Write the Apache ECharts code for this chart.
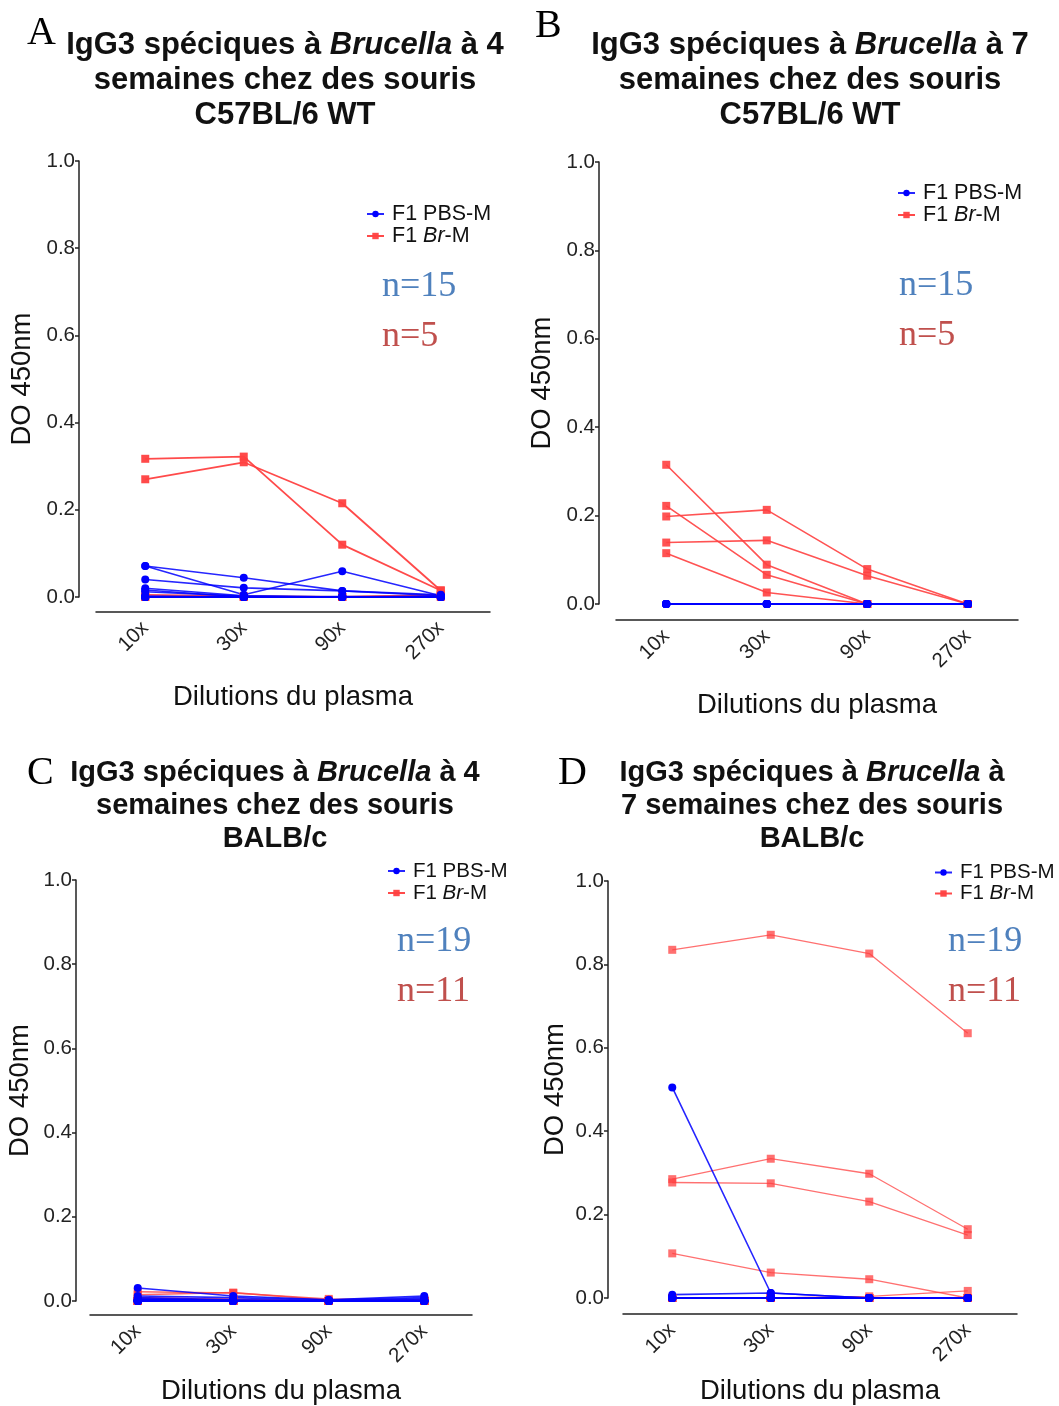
<!DOCTYPE html>
<html>
<head>
<meta charset="utf-8">
<script src="https://cdn.jsdelivr.net/npm/echarts@6/dist/echarts.min.js"></script>
<style>html,body{margin:0;padding:0;background:#fff}#c{width:1059px;height:1406px}</style>
</head>
<body>
<div id="c"></div>
<script>
// ---- data ----
const dilutions = ['10x', '30x', '90x', '270x'];
const seriesNames = ['F1 PBS-M', 'F1 Br-M'];

// Panel A: IgG3, 4 weeks, C57BL/6 WT (n=15 PBS, n=5 Br)
const panelA_PBS = [
  [0.071, 0.044, 0.014, 0.005],
  [0.071, 0.005, 0.059, 0.003],
  [0.040, 0.021, 0.014, 0.003],
  [0.020, 0.003, 0.000, 0.000],
  [0.016, 0.000, 0.000, 0.000],
  [0.012, 0.002, 0.000, 0.002],
  [0.002, 0.000, 0.001, 0.000],
  [0.000, 0.000, 0.000, 0.000],
  [0.000, 0.000, 0.000, 0.000],
  [0.000, 0.001, 0.000, 0.000],
  [0.000, 0.000, 0.000, 0.000],
  [0.000, 0.000, 0.000, 0.000],
  [0.000, 0.000, 0.000, 0.000],
  [0.000, 0.000, 0.000, 0.000],
  [0.000, 0.000, 0.000, 0.000]
];
const panelA_Br = [
  [0.317, 0.322, 0.120, 0.015],
  [0.270, 0.309, 0.215, 0.015],
  [0.005, 0.002, 0.000, 0.005],
  [0.000, 0.000, 0.000, 0.003],
  [0.000, 0.000, 0.000, 0.000]
];

// Panel B: IgG3, 7 weeks, C57BL/6 WT (n=15 PBS, n=5 Br)
const panelB_PBS = [
  [0, 0, 0, 0], [0, 0, 0, 0], [0, 0, 0, 0], [0, 0, 0, 0], [0, 0, 0, 0],
  [0, 0, 0, 0], [0, 0, 0, 0], [0, 0, 0, 0], [0, 0, 0, 0], [0, 0, 0, 0],
  [0, 0, 0, 0], [0, 0, 0, 0], [0, 0, 0, 0], [0, 0, 0, 0], [0, 0, 0, 0]
];
const panelB_Br = [
  [0.315, 0.089, 0.000, 0.000],
  [0.222, 0.066, 0.000, 0.000],
  [0.198, 0.213, 0.079, 0.000],
  [0.139, 0.144, 0.064, 0.000],
  [0.115, 0.026, 0.000, 0.000]
];

// Panel C: IgG3, 4 weeks, BALB/c (n=19 PBS, n=11 Br)
const panelC_PBS = [
  [0.031, 0.012, 0.003, 0.012],
  [0.012, 0.008, 0.002, 0.008],
  [0.008, 0.003, 0.000, 0.005],
  [0.005, 0.000, 0.000, 0.000],
  [0.004, 0.002, 0.000, 0.002],
  [0.003, 0.000, 0.000, 0.000],
  [0.002, 0.000, 0.001, 0.000],
  [0.000, 0.000, 0.000, 0.000],
  [0.000, 0.000, 0.000, 0.000],
  [0.000, 0.000, 0.000, 0.000],
  [0.000, 0.000, 0.000, 0.000],
  [0.000, 0.000, 0.000, 0.000],
  [0.000, 0.000, 0.000, 0.000],
  [0.000, 0.000, 0.000, 0.000],
  [0.000, 0.000, 0.000, 0.000],
  [0.000, 0.000, 0.000, 0.000],
  [0.000, 0.000, 0.000, 0.000],
  [0.000, 0.000, 0.000, 0.000],
  [0.000, 0.000, 0.000, 0.000]
];
const panelC_Br = [
  [0.022, 0.019, 0.005, 0.003],
  [0.015, 0.020, 0.002, 0.000],
  [0.008, 0.005, 0.000, 0.000],
  [0.004, 0.002, 0.000, 0.002],
  [0.000, 0.000, 0.000, 0.000],
  [0.000, 0.000, 0.000, 0.000],
  [0.000, 0.000, 0.000, 0.000],
  [0.000, 0.000, 0.000, 0.000],
  [0.000, 0.000, 0.000, 0.000],
  [0.000, 0.000, 0.000, 0.000],
  [0.000, 0.000, 0.000, 0.000]
];

// Panel D: IgG3, 7 weeks, BALB/c (n=19 PBS, n=11 Br)
const panelD_PBS = [
  [0.505, 0.012, 0.000, 0.000],
  [0.008, 0.012, 0.000, 0.000],
  [0, 0, 0, 0], [0, 0, 0, 0], [0, 0, 0, 0], [0, 0, 0, 0], [0, 0, 0, 0],
  [0, 0, 0, 0], [0, 0, 0, 0], [0, 0, 0, 0], [0, 0, 0, 0], [0, 0, 0, 0],
  [0, 0, 0, 0], [0, 0, 0, 0], [0, 0, 0, 0], [0, 0, 0, 0], [0, 0, 0, 0],
  [0, 0, 0, 0], [0, 0, 0, 0]
];
const panelD_Br = [
  [0.835, 0.871, 0.826, 0.635],
  [0.285, 0.334, 0.298, 0.165],
  [0.277, 0.275, 0.231, 0.151],
  [0.107, 0.061, 0.045, 0.000],
  [0.000, 0.000, 0.004, 0.017],
  [0, 0, 0, 0], [0, 0, 0, 0], [0, 0, 0, 0], [0, 0, 0, 0], [0, 0, 0, 0], [0, 0, 0, 0]
];

const panelTitles = [
  '{b|IgG3 spéciques à }{bi|Brucella}{b| à 4}\n{b|semaines chez des souris}\n{b|C57BL/6 WT}',
  '{b|IgG3 spéciques à }{bi|Brucella}{b| à 7}\n{b|semaines chez des souris}\n{b|C57BL/6 WT}',
  '{b|IgG3 spéciques à }{bi|Brucella}{b| à 4}\n{b|semaines chez des souris}\n{b|BALB/c}',
  '{b|IgG3 spéciques à }{bi|Brucella}{b| à}\n{b|7 semaines chez des souris}\n{b|BALB/c}'
];
const panelLetters = ['A', 'B', 'C', 'D'];
const nPBS = ['n=15', 'n=15', 'n=19', 'n=19'];
const nBr = ['n=5', 'n=5', 'n=11', 'n=11'];
const yAxisTitle = 'DO 450nm';
const xAxisTitle = 'Dilutions du plasma';

// ---- layout ----
const SANS = '"Liberation Sans", Arial, sans-serif';
const SERIF = '"Liberation Serif", "Times New Roman", serif';
const BLUE = '#0000ff';
const RED = '#ff4040';

const panels = [
  { pbs: panelA_PBS, br: panelA_Br, grid: { left: 96, top: 161, width: 394, height: 436 }, yOff: 17, xOff: 15, yGap: 43, xGap: 71,
    title: { cx: 285, top: 28, fs: 31, lh: 35 }, legend: { left: 366, top: 203, fs: 21.5, lh: 22 },
    letter: [27, 13], nText: [382, 269, 319], redW: 1.8, redOp: 0.95 },
  { pbs: panelB_PBS, br: panelB_Br, grid: { left: 616, top: 162, width: 402, height: 442 }, yOff: 17, xOff: 16, yGap: 43, xGap: 71,
    title: { cx: 810, top: 28, fs: 31, lh: 35 }, legend: { left: 897, top: 182, fs: 21.5, lh: 22 },
    letter: [535, 6], nText: [899, 268, 318], redW: 1.6, redOp: 0.9 },
  { pbs: panelC_PBS, br: panelC_Br, grid: { left: 90, top: 880, width: 382, height: 424 }, yOff: 14, xOff: 14, yGap: 42, xGap: 62,
    title: { cx: 275, top: 756, fs: 29, lh: 33 }, legend: { left: 387, top: 860, fs: 20.5, lh: 22 },
    letter: [27, 753], nText: [397, 924, 974], redW: 1.5, redOp: 0.8 },
  { pbs: panelD_PBS, br: panelD_Br, grid: { left: 623, top: 881, width: 394, height: 419 }, yOff: 15, xOff: 16, yGap: 39, xGap: 63,
    title: { cx: 812, top: 756, fs: 29, lh: 33 }, legend: { left: 934, top: 862, fs: 20.5, lh: 20 },
    letter: [558, 753], nText: [948, 924, 974], redW: 1.3, redOp: 0.75 }
];

const option = {
  animation: false,
  backgroundColor: '#fff',
  textStyle: { fontFamily: SANS },
  title: [], legend: [], grid: [], xAxis: [], yAxis: [], series: [], graphic: []
};

panels.forEach((p, i) => {
  option.title.push({
    text: panelTitles[i],
    left: p.title.cx, top: p.title.top, textAlign: 'center', padding: 0,
    textStyle: {
      fontFamily: SANS, fontSize: p.title.fs, lineHeight: p.title.lh,
      rich: {
        b: { fontFamily: SANS, fontWeight: 'bold', fontSize: p.title.fs, lineHeight: p.title.lh, color: '#111' },
        bi: { fontFamily: SANS, fontWeight: 'bold', fontStyle: 'italic', fontSize: p.title.fs, lineHeight: p.title.lh, color: '#111' }
      }
    }
  });
  option.grid.push(Object.assign({ containLabel: false }, p.grid));
  option.xAxis.push({
    type: 'category', gridIndex: i, data: dilutions, boundaryGap: true, offset: p.xOff,
    name: xAxisTitle, nameLocation: 'middle', nameGap: p.xGap,
    nameTextStyle: { fontFamily: SANS, fontSize: 27.5, color: '#111' },
    axisLine: { onZero: false, lineStyle: { color: '#222', width: 1.5 } },
    axisTick: { alignWithLabel: true, length: 6, lineStyle: { color: '#222', width: 1.5 } },
    axisLabel: { rotate: 45, fontFamily: SANS, fontSize: 20.5, color: '#222', margin: 13 },
    splitLine: { show: false }
  });
  option.yAxis.push({
    type: 'value', gridIndex: i, min: 0, max: 1, interval: 0.2, offset: p.yOff,
    name: yAxisTitle, nameLocation: 'middle', nameRotate: 90, nameGap: p.yGap,
    nameTextStyle: { fontFamily: SANS, fontSize: 27.5, color: '#111' },
    axisLine: { show: true, onZero: false, lineStyle: { color: '#222', width: 1.5 } },
    axisTick: { show: true, length: 4, lineStyle: { color: '#222', width: 1.5 } },
    axisLabel: { fontFamily: SANS, fontSize: 20.5, color: '#222', margin: 4, formatter: v => v.toFixed(1) },
    splitLine: { show: false }
  });
  option.legend.push({
    data: seriesNames, orient: 'vertical', left: p.legend.left, top: p.legend.top,
    itemWidth: 17, itemHeight: 8, itemGap: 0, padding: 0,
    textStyle: { fontFamily: SANS, fontSize: p.legend.fs, lineHeight: p.legend.lh, color: '#111', padding: [0, 0, 0, 3],
      rich: { i: { fontFamily: SANS, fontStyle: 'italic', fontSize: p.legend.fs, lineHeight: p.legend.lh, color: '#111' } } },
    formatter: n => n === 'F1 Br-M' ? 'F1 {i|Br}-M' : n
  });
  p.br.forEach(vals => option.series.push({
    type: 'line', name: 'F1 Br-M', xAxisIndex: i, yAxisIndex: i, data: vals,
    symbol: 'rect', symbolSize: 8, color: RED,
    lineStyle: { color: RED, width: p.redW, opacity: p.redOp },
    itemStyle: { color: RED, opacity: p.redOp }
  }));
  p.pbs.forEach(vals => option.series.push({
    type: 'line', name: 'F1 PBS-M', xAxisIndex: i, yAxisIndex: i, data: vals,
    symbol: 'circle', symbolSize: 8, color: BLUE,
    lineStyle: { color: BLUE, width: 1.6, opacity: 0.85 },
    itemStyle: { color: BLUE }
  }));
  option.graphic.push(
    { type: 'text', x: p.letter[0], y: p.letter[1], style: { text: panelLetters[i], font: '40px ' + SERIF, fill: '#000' } },
    { type: 'text', x: p.nText[0], y: p.nText[1], style: { text: nPBS[i], font: '36px ' + SERIF, fill: '#4f81bd' } },
    { type: 'text', x: p.nText[0], y: p.nText[2], style: { text: nBr[i], font: '36px ' + SERIF, fill: '#c0504d' } }
  );
});

const chart = echarts.init(document.getElementById('c'), null, { renderer: 'canvas' });
chart.setOption(option);
</script>
</body>
</html>
